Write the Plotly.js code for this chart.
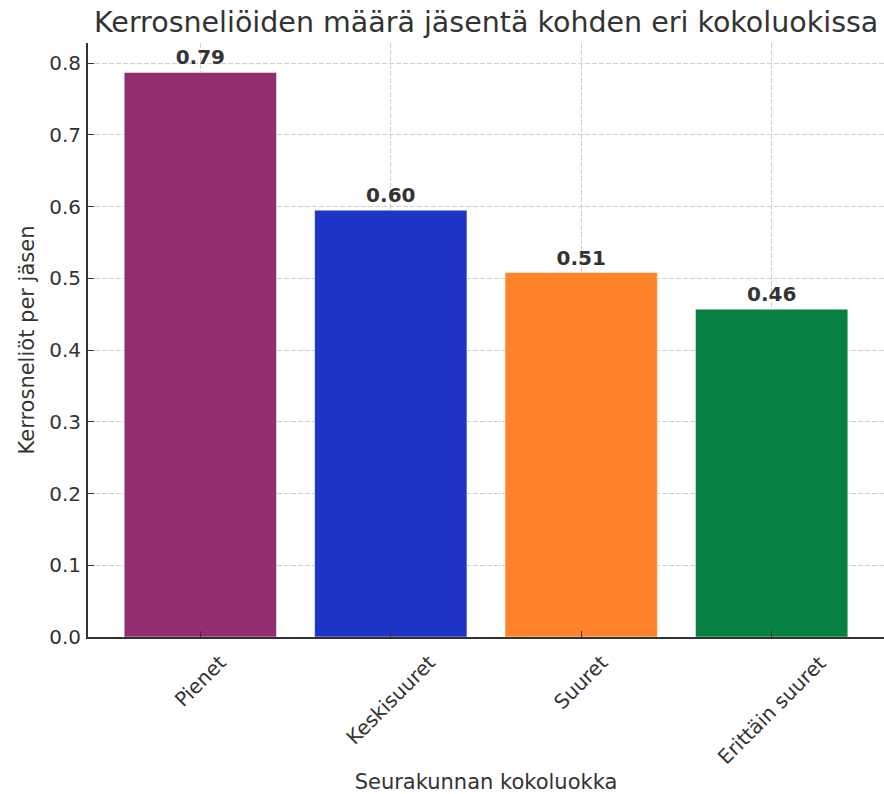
<!DOCTYPE html>
<html>
<head>
<meta charset="utf-8">
<script src="https://cdn.plot.ly/plotly-3.0.1.min.js"></script>
<style>html,body{margin:0;padding:0;background:#fff;}#chart{width:884px;height:794px;}</style>
</head>
<body>
<div id="chart"></div>
<script>
const categories = ["Pienet", "Keskisuuret", "Suuret", "Erittäin suuret"];
const values = [0.787, 0.595, 0.508, 0.457];
const labels = ["0.79", "0.60", "0.51", "0.46"];
const colors = ["#922D6F", "#1F35C6", "#FF832B", "#068141"];
const yTicks = [0.0, 0.1, 0.2, 0.3, 0.4, 0.5, 0.6, 0.7, 0.8];

const FONT = "DejaVu Sans, sans-serif";
const TXT = "#333333";

const trace = {
  type: "bar",
  x: categories,
  y: values,
  text: labels,
  textposition: "outside",
  textfont: {family: FONT, size: 20, color: TXT, weight: "bold"},
  cliponaxis: false,
  marker: {color: colors, line: {color: "rgba(255,255,255,0.5)", width: 1}},
  width: 0.8,
  hoverinfo: "x+y"
};

const annotations = categories.map(c => ({
  x: c, xref: "x", y: -0.018, yref: "paper",
  text: c, showarrow: false, textangle: -45,
  xanchor: "center", yanchor: "top",
  font: {family: FONT, size: 20, color: TXT}
}));

const layout = {
  width: 884, height: 794,
  margin: {l: 88, r: 0, t: 43, b: 157},
  paper_bgcolor: "#ffffff", plot_bgcolor: "#ffffff",
  font: {family: FONT, color: TXT},
  title: {text: "Kerrosneliöiden määrä jäsentä kohden eri kokoluokissa", x: 0.55, xanchor: "center", y: 0.972, yanchor: "middle", font: {family: FONT, size: 28.5, color: TXT}},
  bargap: 0.2,
  xaxis: {
    type: "category", range: [-0.59, 3.59],
    showticklabels: false,
    showgrid: true, gridcolor: "#d0d0d0", griddash: "5px,2px", gridwidth: 1,
    showline: true, linecolor: "#333333", linewidth: 2,
    ticks: "inside", ticklen: 6, tickcolor: "#333333",
    layer: "above traces",
    title: {text: "Seurakunnan kokoluokka", standoff: 137, font: {family: FONT, size: 21, color: TXT}},
    automargin: false
  },
  yaxis: {
    range: [0, 0.828],
    tickvals: yTicks, ticktext: yTicks.map(v => v.toFixed(1)),
    tickfont: {family: FONT, size: 20, color: TXT},
    ticklabelstandoff: 1,
    showgrid: true, gridcolor: "#d0d0d0", griddash: "5px,2px", gridwidth: 1,
    zeroline: false,
    showline: true, linecolor: "#333333", linewidth: 2,
    ticks: "inside", ticklen: 6, tickcolor: "#333333",
    layer: "above traces",
    title: {text: "Kerrosneliöt per jäsen", standoff: 9, font: {family: FONT, size: 21, color: TXT}},
    automargin: false
  },
  annotations: annotations,
  showlegend: false
};

Plotly.newPlot("chart", [trace], layout, {displayModeBar: false, staticPlot: false});
</script>
</body>
</html>
